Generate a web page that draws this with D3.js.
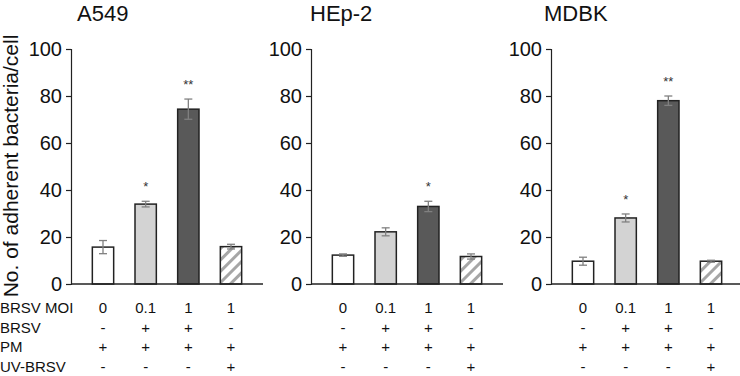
<!DOCTYPE html>
<html>
<head>
<meta charset="utf-8">
<script src="https://cdn.jsdelivr.net/npm/d3@7"></script>
<style>
  body { margin: 0; background: #fff; }
  svg { font-family: Arial, "Liberation Sans", sans-serif; }
</style>
</head>
<body>
<div id="chart"></div>
<script>
// Adherent bacteria per cell, three cell lines
const panels = ["A549", "HEp-2", "MDBK"];
const groups = ["g1", "g2", "g3", "g4"];
const a549Means = [15.7, 34.0, 74.4, 15.9];
const a549Errors = [2.8, 1.2, 4.3, 1.0];
const hep2Means = [12.3, 22.2, 33.0, 11.7];
const hep2Errors = [0.5, 1.7, 2.2, 1.1];
const mdbkMeans = [9.7, 28.1, 78.0, 9.7];
const mdbkErrors = [1.7, 1.7, 2.0, 0.4];
const a549Stars = ["", "*", "**", ""];
const hep2Stars = ["", "", "*", ""];
const mdbkStars = ["", "*", "**", ""];
const yTicks = [0, 20, 40, 60, 80, 100];

const rowLabels = ["BRSV MOI", "BRSV", "PM", "UV-BRSV"];
const rowValues = [
    ["0", "0.1", "1", "1"],
    ["-", "+", "+", "-"],
    ["+", "+", "+", "+"],
    ["-", "-", "-", "+"]
];

const means = [a549Means, hep2Means, mdbkMeans];
const errors = [a549Errors, hep2Errors, mdbkErrors];
const stars = [a549Stars, hep2Stars, mdbkStars];

const fills = ["#ffffff", "#d3d3d3", "#595959", "url(#hatch)"];

const W = 740, H = 376;
const svg = d3.select("#chart").append("svg")
    .attr("width", W)
    .attr("height", H);

// hatch pattern for UV-BRSV bar
const pattern = svg.append("defs").append("pattern")
    .attr("id", "hatch")
    .attr("patternUnits", "userSpaceOnUse")
    .attr("width", 8)
    .attr("height", 8)
    .attr("patternTransform", "rotate(45)");
pattern.append("rect").attr("width", 8).attr("height", 8).attr("fill", "#fff");
pattern.append("rect").attr("x", 0).attr("width", 3).attr("height", 8).attr("fill", "#a6a6a6");

const panelLeft = [71, 311, 551];
const titleX = [77, 310, 544];
const plotW = 192;
const y0 = 284, y100 = 49;
const rowY = 313, rowStep = 19.7;

const y = d3.scaleLinear().domain([0, 100]).range([y0, y100]);

panels.forEach((name, p) => {
    const g = svg.append("g").attr("transform", `translate(${panelLeft[p]},0)`);

    const x = d3.scaleBand().domain(groups).range([0, plotW]).padding(0.5);

    // y axis
    const yAxis = g.append("g")
        .call(d3.axisLeft(y).tickValues(yTicks).tickSize(5).tickPadding(4));
    yAxis.select(".domain").attr("stroke", "#222").attr("stroke-width", 1.2);
    yAxis.selectAll(".tick line").attr("stroke", "#222").attr("stroke-width", 1.2);
    yAxis.selectAll("text").attr("font-size", 20).attr("fill", "#111");

    // bars
    g.selectAll(".bar")
        .data(means[p])
        .enter()
        .append("rect")
        .attr("x", (d, i) => x(groups[i]))
        .attr("y", d => y(d))
        .attr("width", x.bandwidth())
        .attr("height", d => y(0) - y(d))
        .attr("fill", (d, i) => fills[i])
        .attr("stroke", "#222")
        .attr("stroke-width", 1.5);

    // error bars
    const eb = g.selectAll(".err")
        .data(means[p])
        .enter()
        .append("g")
        .attr("stroke", "#808080")
        .attr("stroke-width", 1.3);
    eb.append("line")
        .attr("x1", (d, i) => x(groups[i]) + x.bandwidth() / 2)
        .attr("x2", (d, i) => x(groups[i]) + x.bandwidth() / 2)
        .attr("y1", (d, i) => y(d - errors[p][i]))
        .attr("y2", (d, i) => y(d + errors[p][i]));
    [1, -1].forEach(s => {
        eb.append("line")
            .attr("x1", (d, i) => x(groups[i]) + x.bandwidth() / 2 - 4)
            .attr("x2", (d, i) => x(groups[i]) + x.bandwidth() / 2 + 4)
            .attr("y1", (d, i) => y(d + s * errors[p][i]))
            .attr("y2", (d, i) => y(d + s * errors[p][i]));
    });

    // significance stars
    g.selectAll(".star")
        .data(means[p])
        .enter()
        .append("text")
        .attr("x", (d, i) => x(groups[i]) + x.bandwidth() / 2)
        .attr("y", (d, i) => y(d + errors[p][i]) - 10)
        .attr("text-anchor", "middle")
        .attr("font-size", 13)
        .attr("fill", "#333")
        .text((d, i) => stars[p][i]);

    // x axis line
    g.append("line")
        .attr("x1", 0).attr("x2", plotW)
        .attr("y1", y(0)).attr("y2", y(0))
        .attr("stroke", "#222")
        .attr("stroke-width", 1.3);

    // title
    svg.append("text")
        .attr("x", titleX[p])
        .attr("y", 21)
        .attr("font-size", 22)
        .attr("fill", "#111")
        .text(name);

    // condition table
    rowValues.forEach((row, r) => {
        g.selectAll(".cell" + r)
            .data(row)
            .enter()
            .append("text")
            .attr("x", (d, i) => x(groups[i]) + x.bandwidth() / 2)
            .attr("y", rowY + r * rowStep)
            .attr("text-anchor", "middle")
            .attr("font-size", 15)
            .attr("fill", "#111")
            .text(d => d);
    });
});

// row labels
svg.selectAll(".rowlabel")
    .data(rowLabels)
    .enter()
    .append("text")
    .attr("x", 0)
    .attr("y", (d, i) => rowY + i * rowStep)
    .attr("font-size", 15)
    .attr("fill", "#111")
    .text(d => d);

// y axis title
svg.append("text")
    .attr("transform", "translate(18,166) rotate(-90)")
    .attr("text-anchor", "middle")
    .attr("font-size", 21)
    .attr("fill", "#111")
    .text("No. of adherent bacteria/cell");
</script>
</body>
</html>
